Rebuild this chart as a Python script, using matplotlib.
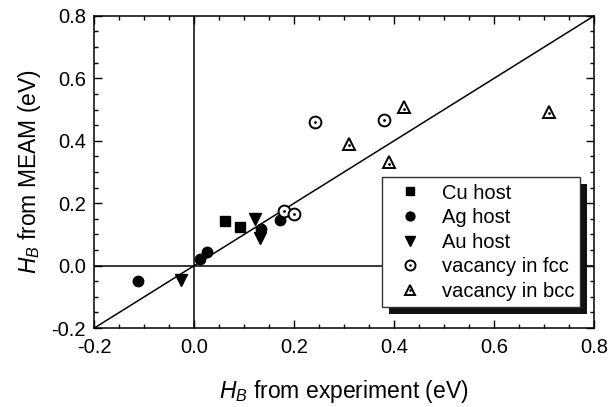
import numpy as np
import matplotlib
matplotlib.use("Agg")
import matplotlib.pyplot as plt
from matplotlib.ticker import MultipleLocator, FormatStrFormatter
from matplotlib.patches import Rectangle
from matplotlib.legend_handler import HandlerTuple

plt.rcParams['font.family'] = ['Liberation Sans', 'DejaVu Sans']
plt.rcParams['mathtext.fontset'] = 'custom'
plt.rcParams['mathtext.it'] = 'Liberation Sans:italic'
plt.rcParams['mathtext.rm'] = 'Liberation Sans'

# data (eV)
cu_x = [0.062, 0.091]
cu_y = [0.144, 0.123]
ag_x = [-0.112, 0.012, 0.026, 0.133, 0.171]
ag_y = [-0.049, 0.021, 0.044, 0.118, 0.145]
au_x = [-0.026, 0.122, 0.131]
au_y = [-0.045, 0.150, 0.089]
fcc_x = [0.241, 0.180, 0.200, 0.379]
fcc_y = [0.459, 0.176, 0.164, 0.467]
bcc_x = [0.309, 0.420, 0.390, 0.709]
bcc_y = [0.389, 0.507, 0.331, 0.493]

labels = ['Cu host', 'Ag host', 'Au host', 'vacancy in fcc', 'vacancy in bcc']

fig = plt.figure(figsize=(6.11, 4.07), dpi=100)
ax = fig.add_axes([0.1543, 0.194, 0.818, 0.767])

lim = [-0.2, 0.8]
ax.plot(lim, lim, color='k', lw=1.1, zorder=1)
ax.axhline(0, color='k', lw=1.1, zorder=1)
ax.axvline(0, color='k', lw=1.1, zorder=1)

h_cu, = ax.plot(cu_x, cu_y, 's', color='k', ms=7, ls='none', zorder=3)
h_ag, = ax.plot(ag_x, ag_y, 'o', color='k', ms=7.5, ls='none', zorder=3)
h_au, = ax.plot(au_x, au_y, 'v', color='k', ms=8.5, ls='none', zorder=3)
h_fcc, = ax.plot(fcc_x, fcc_y, 'o', mfc='white', mec='k', mew=1.4, ms=8.5, ls='none', zorder=3)
d_fcc, = ax.plot(fcc_x, fcc_y, '.', color='k', ms=2, ls='none', zorder=4)
h_bcc, = ax.plot(bcc_x, bcc_y, '^', mfc='white', mec='k', mew=1.4, ms=8.5, ls='none', zorder=3)
d_bcc, = ax.plot(bcc_x, np.array(bcc_y) - 0.004, '.', color='k', ms=2, ls='none', zorder=4)

ax.set_xlim(lim)
ax.set_ylim(lim)
ax.xaxis.set_major_locator(MultipleLocator(0.2))
ax.yaxis.set_major_locator(MultipleLocator(0.2))
ax.xaxis.set_minor_locator(MultipleLocator(0.05))
ax.yaxis.set_minor_locator(MultipleLocator(0.05))
ax.xaxis.set_major_formatter(FormatStrFormatter('%.1f'))
ax.yaxis.set_major_formatter(FormatStrFormatter('%.1f'))
ax.tick_params(which='both', direction='in', top=True, right=True, width=1, labelsize=14.5)
ax.tick_params(which='major', length=6)
ax.tick_params(which='minor', length=3)
ax.tick_params(axis='x', pad=7)
ax.tick_params(axis='y', pad=6)
for s in ax.spines.values():
    s.set_linewidth(1.1)

ax.set_xlabel(r'$H_B$ from experiment (eV)', fontsize=16.5, labelpad=15)
ax.set_ylabel(r'$H_B$ from MEAM (eV)', fontsize=16.5, labelpad=6)

leg = ax.legend([h_cu, h_ag, h_au, (h_fcc, d_fcc), (h_bcc, d_bcc)], labels,
                handler_map={tuple: HandlerTuple(ndivide=1, pad=0)},
                loc='lower right', bbox_to_anchor=(0.972, 0.067), fontsize=14.5,
                frameon=True, fancybox=False, edgecolor='#333333', framealpha=1,
                borderpad=0.3, labelspacing=0.28, handlelength=2.2, handletextpad=0.45,
                borderaxespad=0, markerscale=0.85)
leg.get_frame().set_linewidth(1)
leg.set_zorder(6)

# solid offset shadow behind the legend
fig.canvas.draw()
bb = leg.get_window_extent()
inv = ax.transAxes.inverted()
(x0, y0), (x1, y1) = inv.transform([[bb.x0 + 7, bb.y0 - 7], [bb.x1 + 7, bb.y1 - 7]])
ax.add_patch(Rectangle((x0, y0), x1 - x0, y1 - y0, transform=ax.transAxes,
                       facecolor='#111111', edgecolor='none', zorder=5, clip_on=False))

fig.savefig('out.png', dpi=100)
